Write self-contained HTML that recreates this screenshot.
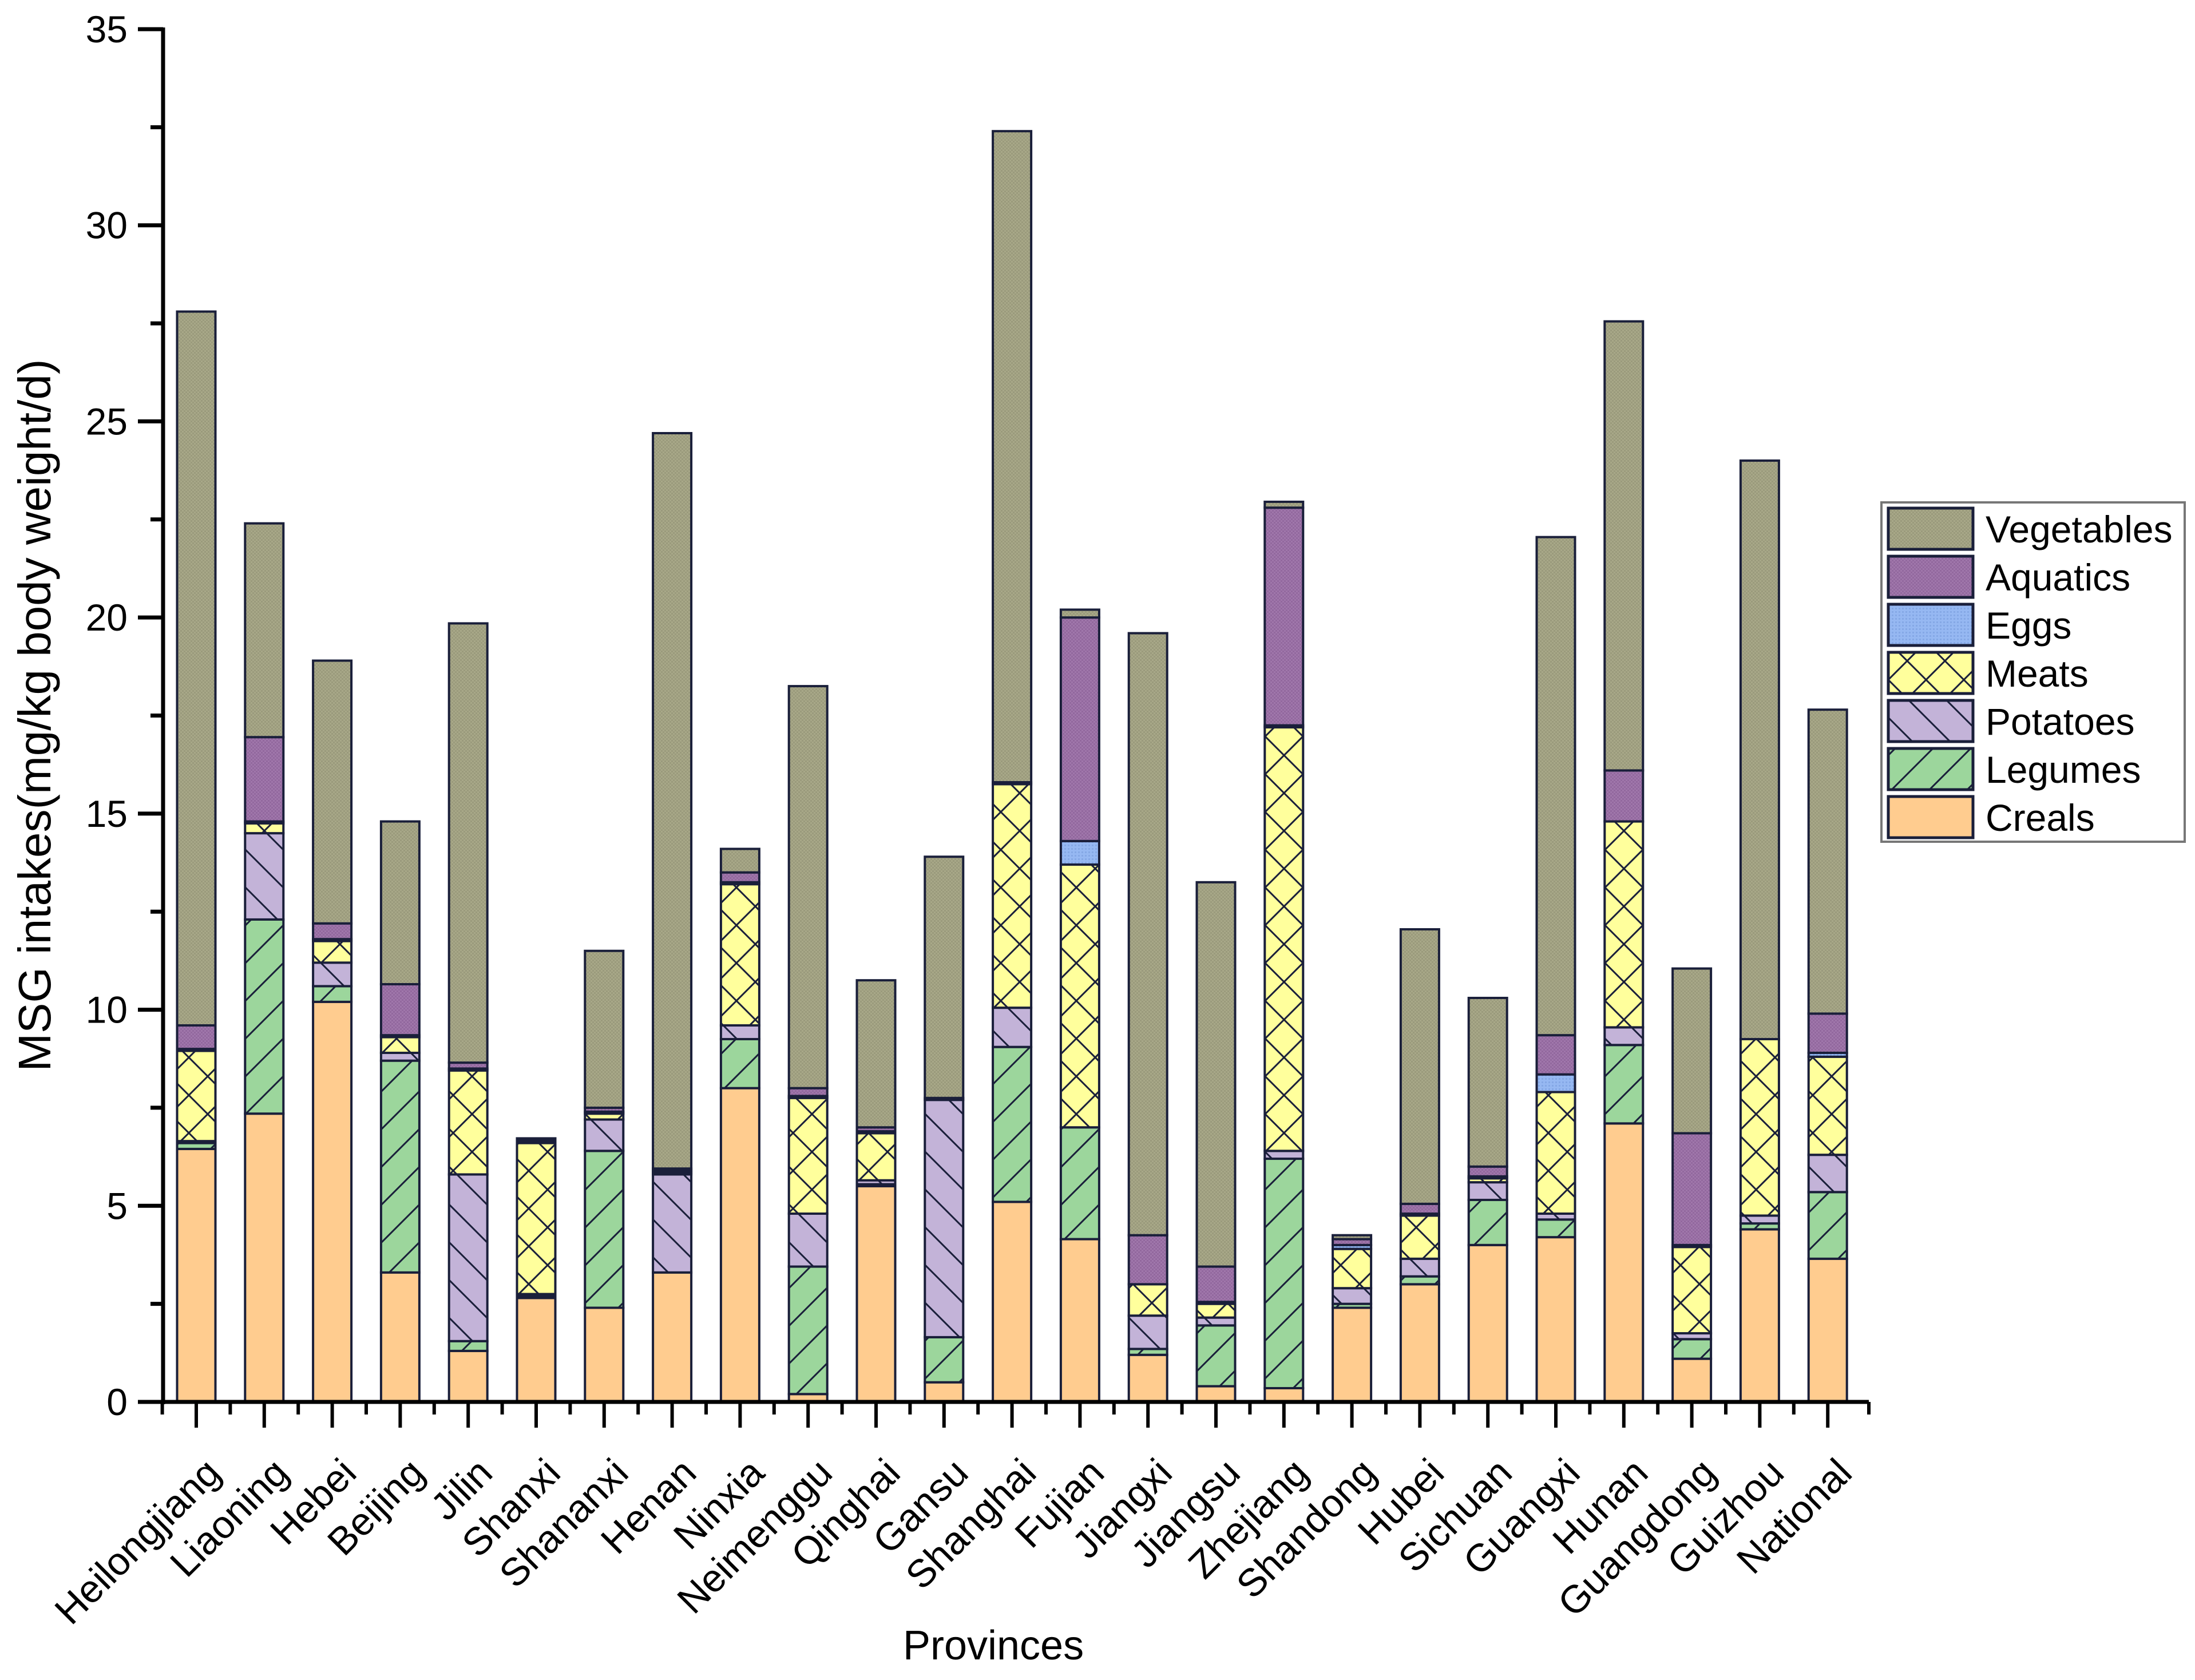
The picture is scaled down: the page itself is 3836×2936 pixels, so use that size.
<!DOCTYPE html>
<html><head><meta charset="utf-8"><style>
html,body{margin:0;padding:0;background:#fff;}
svg{display:block;font-family:"Liberation Sans",Arial,sans-serif;}
</style></head><body>
<svg id="chart" width="3836" height="2936" viewBox="0 0 3836 2936" xmlns="http://www.w3.org/2000/svg">
<defs>
<pattern id="p-veg" patternUnits="userSpaceOnUse" width="6" height="6"><rect width="6" height="6" fill="#a8a888"/><rect width="3" height="3" fill="#9a9a7c"/><rect x="3" y="3" width="3" height="3" fill="#9a9a7c"/></pattern>
<pattern id="p-aq" patternUnits="userSpaceOnUse" width="6" height="6"><rect width="6" height="6" fill="#a077ab"/><rect width="3" height="3" fill="#92689e"/><rect x="3" y="3" width="3" height="3" fill="#92689e"/></pattern>
<pattern id="p-egg" patternUnits="userSpaceOnUse" width="6" height="6"><rect width="6" height="6" fill="#96b8f2"/><rect width="3" height="3" fill="#85a8e6"/></pattern>
<pattern id="p-meat" patternUnits="userSpaceOnUse" width="66" height="66"><rect width="66" height="66" fill="#ffff9c"/><path d="M0 0L66 66M66 0L0 66" stroke="#1a1f3a" stroke-width="3"/></pattern>
<pattern id="p-pot" patternUnits="userSpaceOnUse" width="66" height="66"><rect width="66" height="66" fill="#c3b3d8"/><path d="M0 0L66 66M-33 33L33 99M33 -33L99 33" stroke="#1a1f3a" stroke-width="3"/></pattern>
<pattern id="p-leg" patternUnits="userSpaceOnUse" width="66" height="66"><rect width="66" height="66" fill="#9cd69c"/><path d="M0 66L66 0M-33 33L33 -33M33 99L99 33" stroke="#1a1f3a" stroke-width="3"/></pattern>
</defs>
<g id="bars"></g>
<g id="axes"></g>
</svg>
<script>
const categories = ["Heilongjiang","Liaoning","Hebei","Beijing","Jilin","Shanxi","Shananxi","Henan","Ninxia","Neimenggu","Qinghai","Gansu","Shanghai","Fujian","Jiangxi","Jiangsu","Zhejiang","Shandong","Hubei","Sichuan","Guangxi","Hunan","Guangdong","Guizhou","National"];
const creals = [6.45,7.35,10.2,3.3,1.3,2.65,2.4,3.3,8.0,0.2,5.5,0.5,5.1,4.15,1.2,0.4,0.35,2.4,3.0,4.0,4.2,7.1,1.1,4.4,3.65];
const legumes = [0.15,4.95,0.4,5.4,0.25,0.05,4.0,0,1.25,3.25,0.05,1.15,3.95,2.85,0.15,1.55,5.85,0.1,0.2,1.15,0.45,2.0,0.5,0.15,1.7];
const potatoes = [0.05,2.2,0.6,0.2,4.25,0.05,0.8,2.5,0.35,1.35,0.1,6.05,1.0,0,0.85,0.2,0.2,0.4,0.45,0.45,0.15,0.45,0.15,0.2,0.95];
const meats = [2.3,0.25,0.55,0.4,2.65,3.85,0.15,0.05,3.6,2.95,1.2,0,5.7,6.7,0.8,0.35,10.8,1.0,1.1,0.1,3.1,5.25,2.2,4.5,2.5];
const eggs = [0.05,0.05,0.05,0.05,0.05,0.05,0.05,0.05,0.05,0.05,0.05,0,0,0.6,0,0.05,0.05,0.1,0.05,0.05,0.45,0,0.05,0,0.1];
const aquatics = [0.6,2.15,0.4,1.3,0.15,0.05,0.1,0.05,0.25,0.2,0.1,0.05,0.05,5.7,1.25,0.9,5.55,0.15,0.25,0.25,1.0,1.3,2.85,0,1.0];
const vegetables = [18.2,5.45,6.7,4.15,11.2,0.02,4.0,18.75,0.6,10.25,3.75,6.15,16.6,0.2,15.35,9.8,0.15,0.1,7.0,4.3,12.7,11.45,4.2,14.75,7.75];
const seriesNames = ["Creals","Legumes","Potatoes","Meats","Eggs","Aquatics","Vegetables"];
const yTicks = [0,5,10,15,20,25,30,35];

const NS="http://www.w3.org/2000/svg";
const X0=285, X1=3266, Y0=2450, YTOP=51, YMAX=35;
const first=343, step=118.8, bw=67;
function xScale(i){return first+i*step;}
function yScale(v){return Y0-(v/YMAX)*(Y0-YTOP);}
function mk(tag,attrs,parent){const e=document.createElementNS(NS,tag);for(const k in attrs)e.setAttribute(k,attrs[k]);parent.appendChild(e);return e;}
const series=[creals,legumes,potatoes,meats,eggs,aquatics,vegetables];
const fills=["#ffcc8f","url(#p-leg)","url(#p-pot)","url(#p-meat)","url(#p-egg)","url(#p-aq)","url(#p-veg)"];
const keys=["creals","legumes","potatoes","meats","eggs","aquatics","vegetables"];
const bars=document.getElementById('bars');
categories.forEach((c,i)=>{
  let cum=0;
  series.forEach((s,k)=>{
    const v=s[i]; if(v<=0) return;
    const y1=yScale(cum+v), y2=yScale(cum);
    const r=mk('rect',{x:xScale(i)-bw/2,y:y1,width:bw,height:Math.max(y2-y1,0.5),fill:fills[k],stroke:'#1a1f3a','stroke-width':4},bars);
    
    
    cum+=v;
  });
});
const ax=document.getElementById('axes');
const yl=mk('line',{x1:X0,y1:YTOP-3,x2:X0,y2:Y0+4,stroke:'#000','stroke-width':7},ax);


const xl=mk('line',{x1:X0-44,y1:Y0,x2:X1,y2:Y0,stroke:'#000','stroke-width':7},ax);


yTicks.forEach(t=>{
  const y=yScale(t);
  mk('line',{x1:X0-44,y1:y,x2:X0,y2:y,stroke:'#000','stroke-width':7},ax);
  if(t<YMAX) mk('line',{x1:X0-22,y1:yScale(t+2.5),x2:X0,y2:yScale(t+2.5),stroke:'#000','stroke-width':7},ax);
  const tx=mk('text',{x:X0-62,y:y+23,'text-anchor':'end','font-size':66,fill:'#000'},ax);
  tx.textContent=t;
  
  
});
categories.forEach((c,i)=>{
  const x=xScale(i);
  mk('line',{x1:x,y1:Y0,x2:x,y2:Y0+45,stroke:'#000','stroke-width':6},ax);
  mk('line',{x1:x-step/2,y1:Y0,x2:x-step/2,y2:Y0+22,stroke:'#000','stroke-width':6},ax);
  const ax_=x+46, ay_=Y0+128;
  const tx=mk('text',{x:ax_,y:ay_,'text-anchor':'end','font-size':68,fill:'#000',transform:`rotate(-45 ${ax_} ${ay_})`},ax);
  tx.textContent=c;
  
  
});
mk('line',{x1:X1,y1:Y0,x2:X1,y2:Y0+22,stroke:'#000','stroke-width':6},ax);
const xt=mk('text',{x:1736,y:2900,'text-anchor':'middle','font-size':72,fill:'#000'},ax);
xt.textContent='Provinces';


const yt=mk('text',{x:0,y:0,'text-anchor':'middle','font-size':80,fill:'#000',transform:'translate(88 1250) rotate(-90)'},ax);
yt.textContent='MSG intakes(mg/kg body weight/d)';


// legend
const lg=mk('g',{},ax);


mk('rect',{x:3288,y:878,width:530,height:593,fill:'#fff',stroke:'#777','stroke-width':4},lg);
const order=[6,5,4,3,2,1,0];
order.forEach((k,j)=>{
  const y=888+j*84;
  const sw=mk('rect',{x:3300,y:y,width:148,height:72,fill:fills[k],stroke:'#1a1f3a','stroke-width':5},lg);
  
  
  const t=mk('text',{x:3470,y:y+60,'font-size':66,fill:'#000'},lg);
  t.textContent=seriesNames[k];
  
  
});
</script>
</body></html>
